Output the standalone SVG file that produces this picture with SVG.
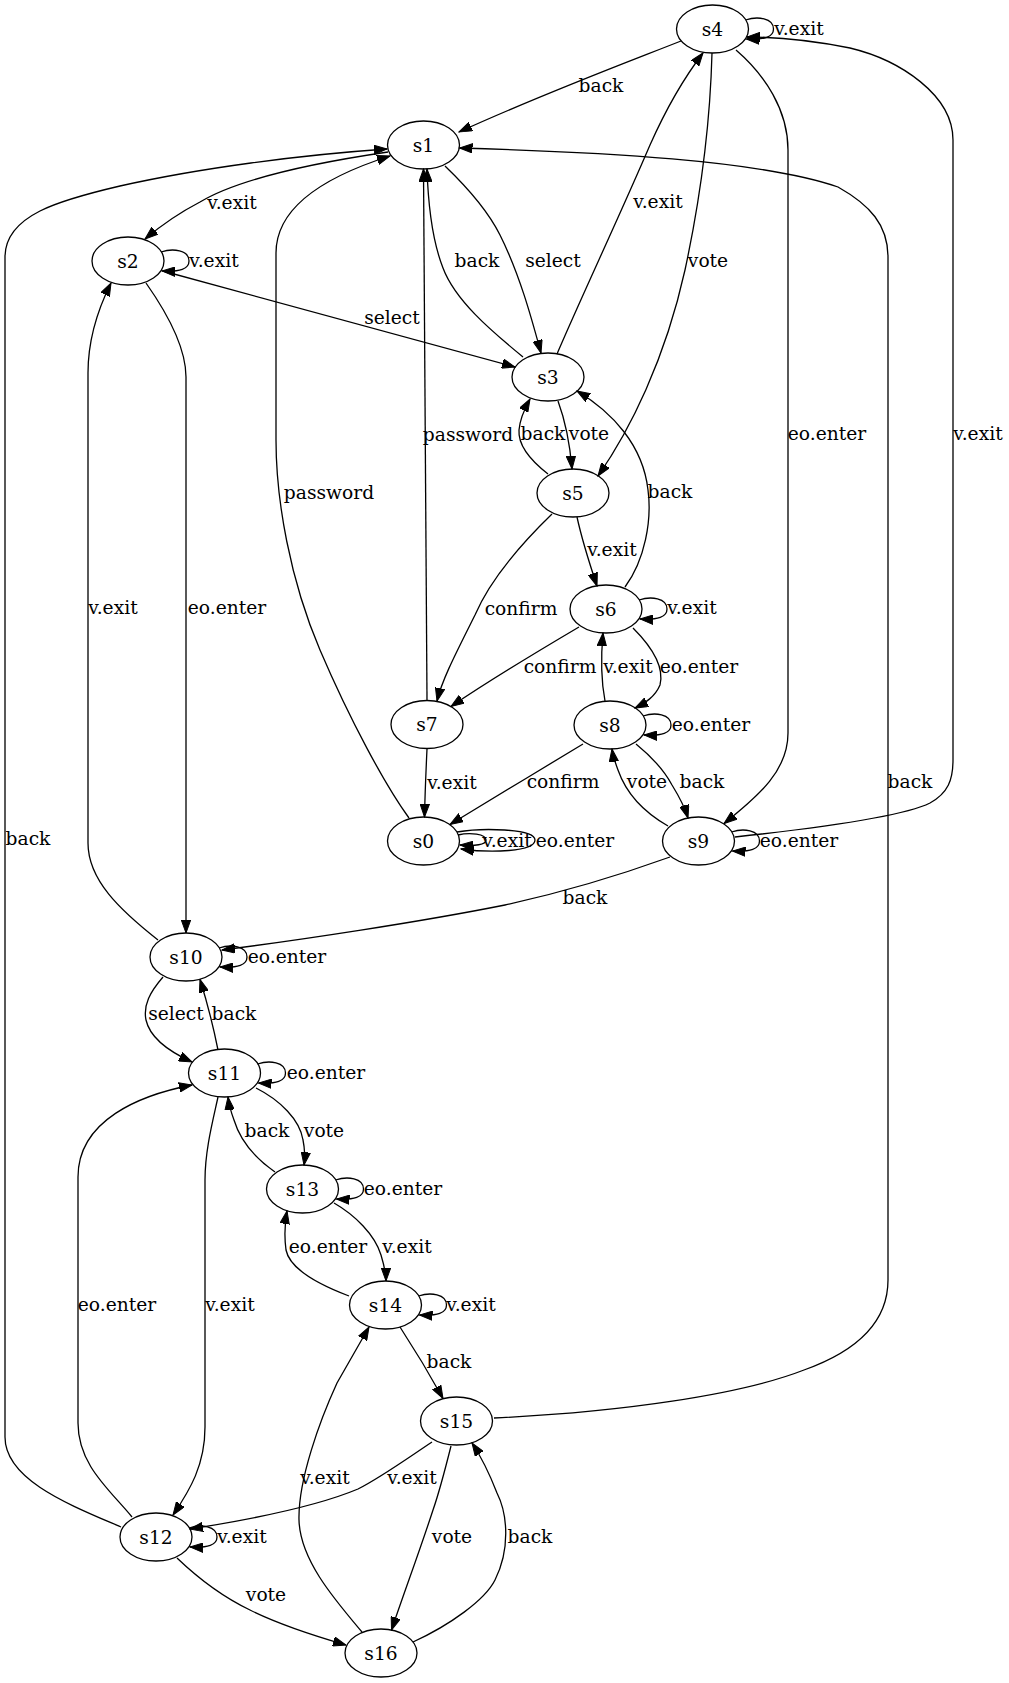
<svg xmlns="http://www.w3.org/2000/svg" width="1009" height="1683" viewBox="0 0 1009 1683">
<style>
.n ellipse{fill:none;stroke:#000;stroke-width:1.3}
text{font-family:"DejaVu Serif",serif;font-size:18.67px;text-anchor:middle;fill:#000}
.e path{fill:none;stroke:#000;stroke-width:1.3;marker-end:url(#a)}
</style>
<defs>
<marker id="a" markerUnits="userSpaceOnUse" markerWidth="14" markerHeight="10" refX="13" refY="5" orient="auto" viewBox="0 0 14 10"><path d="M0,0.3 L13,5 L0,9.7 z" fill="#000" stroke="#000" stroke-width="1"/></marker>
</defs>
<rect width="1009" height="1683" fill="#fff"/>
<g id="edges" class="e">
<path d="M681,41 C620,65 540,95 459,132"/>
<path d="M388,152 C320,162 240,178 200,202 C175,215 158,228 145,239"/>
<path d="M161,252 C173,248 189,250 189,261 C189,269 180,272 162,271"/>
<path d="M163,271 L515,367"/>
<path d="M146,283 C165,310 186,345 186,377 L186,933"/>
<path d="M158,940 C120,910 88,880 88,843 L88,373 C88,335 100,305 111,283"/>
<path d="M121,1527 C70,1505 5,1480 5,1437 L5,257 C5,215 60,200 120,186 C200,168 300,155 387,149"/>
<path d="M445,166 C470,190 490,215 500,235 C520,275 532,320 541,353"/>
<path d="M523,357 C490,330 455,300 443,268 C432,240 428,200 427,169"/>
<path d="M427,700 L423.5,169"/>
<path d="M409,818 C385,785 350,720 320,650 C290,580 276,500 276,440 L276,253 C276,205 330,175 390,156"/>
<path d="M557,354 C580,300 620,215 650,145 C670,100 690,70 703,53"/>
<path d="M712,53 C710,130 700,200 685,270 C665,360 630,430 598,476"/>
<path d="M558,401 C565,420 570,445 572,469"/>
<path d="M548,474 C530,460 518,445 519,430 C520,418 525,408 530,399"/>
<path d="M625,587 C645,560 652,520 648,490 C643,445 612,412 577,391"/>
<path d="M577,517 C582,540 590,565 597,586"/>
<path d="M552,514 C520,545 490,580 475,615 C455,655 442,680 437,701"/>
<path d="M579,627 C540,650 490,680 451,706.5"/>
<path d="M639,600 C651,596 667,598 667,609 C667,617 658,620 640,619"/>
<path d="M633,628 C650,645 665,665 660,685 C655,697 645,703 635,708"/>
<path d="M605,701 C601,680 601,655 603,633"/>
<path d="M643,716 C655,712 671,714 671,725 C671,733 662,736 644,735"/>
<path d="M583,744 C540,770 490,800 450,824.5"/>
<path d="M427,749 C426,770 425,795 424.5,817"/>
<path d="M668,826 C640,810 625,790 618,770 C615,762 613,756 612,749"/>
<path d="M636,744 C652,757 665,772 672,785 C680,798 685,808 688,818"/>
<path d="M736,50 C765,75 788,110 788,150 L788,733 C788,770 760,795 724,823.5"/>
<path d="M735,837 C800,830 900,818 930,803 C948,793 953,780 953,760 L953,140 C953,95 900,60 850,48 C810,40 780,37 747,37"/>
<path d="M745.5,20 C757.5,16 773.5,18 773.5,29 C773.5,37 764.5,40 746.5,39"/>
<path d="M731.5,832 C743.5,828 759.5,830 759.5,841 C759.5,849 750.5,852 732.5,851"/>
<path d="M670,857 C620,875 560,893 505,905 C420,922 300,940 222,950"/>
<path d="M219,948 C231,944 247,946 247,957 C247,965 238,968 220,967"/>
<path d="M163,977 C150,992 143,1005 146,1020 C150,1038 170,1052 192,1062"/>
<path d="M218,1050 C214,1030 208,1005 200,979.5"/>
<path d="M257.5,1064 C269.5,1060 285.5,1062 285.5,1073 C285.5,1081 276.5,1084 258.5,1083"/>
<path d="M256,1088 C280,1100 300,1120 303,1140 C305,1150 305,1158 304,1165"/>
<path d="M275,1172 C255,1158 240,1140 234,1120 C231,1112 229,1105 228,1097"/>
<path d="M335.5,1180 C347.5,1176 363.5,1178 363.5,1189 C363.5,1197 354.5,1200 336.5,1199"/>
<path d="M334,1203 C355,1215 375,1235 381,1255 C384,1265 386,1273 386,1281"/>
<path d="M349,1296 C320,1285 290,1270 286,1250 C284,1235 285,1222 287,1211"/>
<path d="M418.5,1296 C430.5,1292 446.5,1294 446.5,1305 C446.5,1313 437.5,1316 419.5,1315"/>
<path d="M400,1327 C415,1350 430,1375 443,1398.5"/>
<path d="M362,1632 C335,1600 300,1560 299,1520 C298,1480 320,1420 337,1383 C350,1360 360,1343 369,1327"/>
<path d="M451,1446 C445,1470 440,1490 433,1510 C420,1550 405,1590 391.5,1630"/>
<path d="M413,1642 C450,1625 485,1600 495,1580 C510,1550 508,1515 497,1493 C490,1475 482,1458 472,1443"/>
<path d="M432,1442 C405,1460 380,1478 358,1489 C320,1505 260,1518 190,1529"/>
<path d="M189,1528 C201,1524 217,1526 217,1537 C217,1545 208,1548 190,1547"/>
<path d="M177,1558 C200,1580 225,1598 250,1610 C280,1625 315,1636 346,1645"/>
<path d="M218,1097 C213,1120 205,1150 205,1180 L205,1427 C205,1465 190,1490 173,1515"/>
<path d="M132,1517 C110,1490 78,1465 78,1423 L78,1177 C78,1120 140,1095 192,1085"/>
<path d="M494,1418 C620,1412 740,1395 804,1370 C860,1350 888,1320 888,1280 L888,257 C888,225 870,205 838,187 C760,160 600,152 459.5,148"/>
<path d="M458,835 C470,832 486,834 486,840 C486,845 475,846 460,845"/>
<path d="M457,832 C480,828 535,828 535,840 C535,852 490,853 461,849"/>
</g>
<g id="edge-labels">
<text x="601" y="92">back</text>
<text x="232" y="209">v.exit</text>
<text x="214" y="267">v.exit</text>
<text x="392" y="324">select</text>
<text x="227" y="614">eo.enter</text>
<text x="113" y="614">v.exit</text>
<text x="28" y="845">back</text>
<text x="477" y="267">back</text>
<text x="553" y="267">select</text>
<text x="468" y="441">password</text>
<text x="329" y="499">password</text>
<text x="658" y="208">v.exit</text>
<text x="708" y="267">vote</text>
<text x="827" y="440">eo.enter</text>
<text x="978" y="440">v.exit</text>
<text x="799" y="35">v.exit</text>
<text x="543" y="440">back</text>
<text x="589" y="440">vote</text>
<text x="670" y="498">back</text>
<text x="612" y="556">v.exit</text>
<text x="521" y="615">confirm</text>
<text x="692" y="614">v.exit</text>
<text x="560" y="673">confirm</text>
<text x="628" y="673">v.exit</text>
<text x="699" y="673">eo.enter</text>
<text x="711" y="731">eo.enter</text>
<text x="452" y="789">v.exit</text>
<text x="563" y="788">confirm</text>
<text x="647" y="788">vote</text>
<text x="702" y="788">back</text>
<text x="910" y="788">back</text>
<text x="507" y="847">v.exit</text>
<text x="575" y="847">eo.enter</text>
<text x="799" y="847">eo.enter</text>
<text x="585" y="904">back</text>
<text x="287" y="963">eo.enter</text>
<text x="176" y="1020">select</text>
<text x="234" y="1020">back</text>
<text x="326" y="1079">eo.enter</text>
<text x="267" y="1137">back</text>
<text x="324" y="1137">vote</text>
<text x="403" y="1195">eo.enter</text>
<text x="328" y="1253">eo.enter</text>
<text x="407" y="1253">v.exit</text>
<text x="117" y="1311">eo.enter</text>
<text x="230" y="1311">v.exit</text>
<text x="471" y="1311">v.exit</text>
<text x="449" y="1368">back</text>
<text x="325" y="1484">v.exit</text>
<text x="412" y="1484">v.exit</text>
<text x="242" y="1543">v.exit</text>
<text x="452" y="1543">vote</text>
<text x="530" y="1543">back</text>
<text x="266" y="1601">vote</text>
</g>
<g id="s4" class="n"><ellipse cx="712.5" cy="29" rx="36" ry="24"/><text x="712.5" y="35.5">s4</text></g>
<g id="s1" class="n"><ellipse cx="423.5" cy="145" rx="36" ry="24"/><text x="423.5" y="151.5">s1</text></g>
<g id="s2" class="n"><ellipse cx="128" cy="261" rx="36" ry="24"/><text x="128" y="267.5">s2</text></g>
<g id="s3" class="n"><ellipse cx="548" cy="377" rx="36" ry="24"/><text x="548" y="383.5">s3</text></g>
<g id="s5" class="n"><ellipse cx="573" cy="493" rx="36" ry="24"/><text x="573" y="499.5">s5</text></g>
<g id="s6" class="n"><ellipse cx="606" cy="609" rx="36" ry="24"/><text x="606" y="615.5">s6</text></g>
<g id="s7" class="n"><ellipse cx="427" cy="724.5" rx="36" ry="24"/><text x="427" y="731">s7</text></g>
<g id="s8" class="n"><ellipse cx="610" cy="725" rx="36" ry="24"/><text x="610" y="731.5">s8</text></g>
<g id="s0" class="n"><ellipse cx="423.5" cy="841" rx="36" ry="24"/><text x="423.5" y="847.5">s0</text></g>
<g id="s9" class="n"><ellipse cx="698.5" cy="841" rx="36" ry="24"/><text x="698.5" y="847.5">s9</text></g>
<g id="s10" class="n"><ellipse cx="186" cy="957" rx="36" ry="24"/><text x="186" y="963.5">s10</text></g>
<g id="s11" class="n"><ellipse cx="224.5" cy="1073" rx="36" ry="24"/><text x="224.5" y="1079.5">s11</text></g>
<g id="s13" class="n"><ellipse cx="302.5" cy="1189" rx="36" ry="24"/><text x="302.5" y="1195.5">s13</text></g>
<g id="s14" class="n"><ellipse cx="385.5" cy="1305" rx="36" ry="24"/><text x="385.5" y="1311.5">s14</text></g>
<g id="s15" class="n"><ellipse cx="456.5" cy="1421" rx="36" ry="24"/><text x="456.5" y="1427.5">s15</text></g>
<g id="s12" class="n"><ellipse cx="156" cy="1537" rx="36" ry="24"/><text x="156" y="1543.5">s12</text></g>
<g id="s16" class="n"><ellipse cx="381" cy="1653" rx="36" ry="24"/><text x="381" y="1659.5">s16</text></g>
</svg>
